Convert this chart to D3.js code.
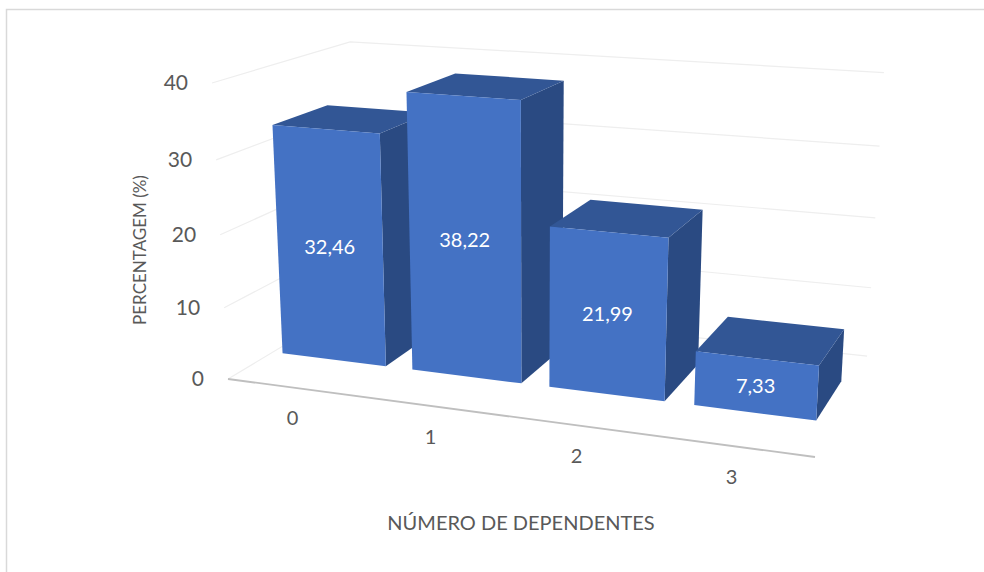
<!DOCTYPE html>
<html><head><meta charset="utf-8">
<script src="https://cdn.jsdelivr.net/npm/d3@7"></script>
<style>html,body{margin:0;padding:0;background:#fff}svg{display:block}text{font-family:Lato,"Open Sans",sans-serif}</style>
</head><body><svg id="c" width="984" height="572"></svg>
<script>
const categories = ["0","1","2","3"];
const values = [32.46, 38.22, 21.99, 7.33];
const valueLabels = ["32,46","38,22","21,99","7,33"];
const valueTicks = [0,10,20,30,40];
const xTitle = "NÚMERO DE DEPENDENTES";
const yTitle = "PERCENTAGEM (%)";

const svg = d3.select("#c");
const u = d3.scaleBand().domain(categories).range([-0.006,0.994]).paddingInner(0.2).paddingOuter(0.1);
const v = d3.scaleLinear().domain([0,40]).range([0,1]);
const depthFront = 0.315, depthBack = 0.725;

// perspective projection of the unit chart box (u across, v up, w into the page)
const O=[228,379], U=[815,457], V=[212,83], W=[358,301];
const ka=-0.11, kb=-0.05, kc=0.15;
function project(a,b,c){
  const h = 1+ka*a+kb*b+kc*c;
  const f = i => O[i] + a*((1+ka)*U[i]-O[i]) + b*((1+kb)*V[i]-O[i]) + c*((1+kc)*W[i]-O[i]);
  return [f(0)/h, f(1)/h];
}
const poly = d3.line();

// outer frame: top and left edges
svg.append("path").attr("d","M6.5,572V9.5H984").attr("fill","none").attr("stroke","#d9d9d9").attr("stroke-width",1.5);

// gridlines
const grid = svg.append("g").attr("fill","none").attr("stroke","#eeeeee").attr("stroke-width",1.2);
grid.selectAll("path").data(valueTicks).join("path")
  .attr("d",t=>poly([project(0,v(t),0),project(0,v(t),1),project(0.985,v(t),1.03)]));

// front axis line
svg.append("path").attr("d",poly([project(0,0,0),project(1,0,0)]))
  .attr("stroke","#bfbfbf").attr("stroke-width",1.8).attr("fill","none");

// bars
const bars = svg.selectAll("g.bar").data(categories.map((c,i)=>({c,val:values[i],label:valueLabels[i]}))).join("g").attr("class","bar");
bars.each(function(d){
  const g=d3.select(this), a0=u(d.c), a1=a0+u.bandwidth(), t=v(d.val);
  g.append("path").attr("fill","#2a4a82").attr("d",poly([project(a1,0,depthFront),project(a1,0,depthBack),project(a1,t,depthBack),project(a1,t,depthFront)])+"Z");
  g.append("path").attr("fill","#325695").attr("d",poly([project(a0,t,depthFront),project(a0,t,depthBack),project(a1,t,depthBack),project(a1,t,depthFront)])+"Z");
  g.append("path").attr("fill","#4472c4").attr("d",poly([project(a0,0,depthFront),project(a1,0,depthFront),project(a1,t,depthFront),project(a0,t,depthFront)])+"Z");
  const p=project((a0+a1)/2,t/2,depthFront);
  g.append("text").attr("x",p[0]).attr("y",p[1]+2).attr("text-anchor","middle").attr("dominant-baseline","middle")
    .attr("fill","#ffffff").attr("font-size",20).text(d.label);
});

// value tick labels
svg.append("g").selectAll("text").data(valueTicks).join("text")
  .attr("x",t=>project(0,v(t),0)[0]-24).attr("y",t=>project(0,v(t),0)[1]+2)
  .attr("text-anchor","end").attr("dominant-baseline","middle")
  .attr("fill","#595959").attr("font-size",21).text(t=>t);

// category tick labels
svg.append("g").selectAll("text").data(categories).join("text")
  .attr("x",c=>project(u(c)+u.bandwidth()/2,0,0)[0]+1.5).attr("y",c=>project(u(c)+u.bandwidth()/2,0,0)[1]+33)
  .attr("text-anchor","middle").attr("dominant-baseline","middle")
  .attr("fill","#595959").attr("font-size",20).text(c=>c);

// axis titles
svg.append("text").attr("x",521).attr("y",525).attr("text-anchor","middle").attr("dominant-baseline","middle")
  .attr("fill","#595959").attr("font-size",20).text(xTitle);
svg.append("text").attr("transform","translate(142,250) rotate(-90)").attr("text-anchor","middle").attr("dominant-baseline","middle")
  .attr("fill","#595959").attr("font-size",17).text(yTitle);
</script></body></html>
